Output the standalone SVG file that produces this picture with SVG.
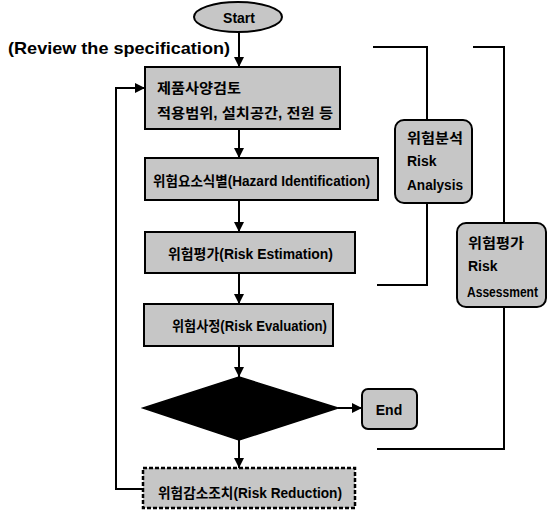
<svg xmlns="http://www.w3.org/2000/svg" width="548" height="511" viewBox="0 0 548 511">
<style>
.box{fill:#c6c6c6;stroke:#000;stroke-width:2}
.dash{fill:#c6c6c6;stroke:#000;stroke-width:2.5;stroke-dasharray:4 2}
.t{font-family:"Liberation Sans","Noto Sans CJK KR",sans-serif;font-weight:bold;font-size:14px;fill:#000}
.ln{fill:none;stroke:#000;stroke-width:2}
</style>
<defs>
<marker id="ah" viewBox="0 0 10 10" refX="10" refY="5" markerWidth="5" markerHeight="5" orient="auto" markerUnits="strokeWidth">
<path d="M0,0 L10,5 L0,10 z" fill="#000"/>
</marker>
</defs>
<rect width="548" height="511" fill="#fff"/>
<text x="8" y="54" font-family="Liberation Sans, sans-serif" font-weight="bold" font-size="17" textLength="222" lengthAdjust="spacingAndGlyphs">(Review the specification)</text>
<g id="start">
<ellipse cx="238" cy="17" rx="44" ry="15" class="box"/>
<text x="239" y="23" class="t" text-anchor="middle" font-size="16">Start</text>
</g>
<g id="spec">
<rect x="145" y="67" width="195" height="62" class="box"/>
<text x="157" y="93" class="t" textLength="84" lengthAdjust="spacingAndGlyphs">제품사양검토</text>
<text x="157" y="118" class="t" textLength="176" lengthAdjust="spacingAndGlyphs">적용범위, 설치공간, 전원 등</text>
</g>
<g id="hazard">
<rect x="145" y="158" width="233" height="42" class="box"/>
<text x="153" y="186" class="t" font-size="15" textLength="217" lengthAdjust="spacingAndGlyphs">위험요소식별(Hazard Identification)</text>
</g>
<g id="estimation">
<rect x="145" y="232" width="210" height="41" class="box"/>
<text x="168" y="259" class="t" font-size="15" textLength="165" lengthAdjust="spacingAndGlyphs">위험평가(Risk Estimation)</text>
</g>
<g id="evaluation">
<rect x="144" y="304" width="189" height="42" class="box"/>
<text x="172" y="331" class="t" font-size="15" textLength="155" lengthAdjust="spacingAndGlyphs">위험사정(Risk Evaluation)</text>
</g>
<g id="decision">
<polygon points="239,377 338,408 239,440 143,408" fill="#000" stroke="#000" stroke-width="1.5"/>
</g>
<g id="end">
<rect x="362" y="389" width="55" height="40" rx="6" class="box"/>
<text x="389" y="415" class="t" font-size="15" text-anchor="middle">End</text>
</g>
<g id="reduction">
<rect x="143" y="468" width="212" height="40" class="dash"/>
<text x="158" y="498" class="t" font-size="15" textLength="184" lengthAdjust="spacingAndGlyphs">위험감소조치(Risk Reduction)</text>
</g>
<g id="risk-analysis">
<rect x="395" y="120" width="77" height="83" rx="9" class="box"/>
<text x="407" y="143" class="t" font-size="15" textLength="56" lengthAdjust="spacingAndGlyphs">위험분석</text>
<text x="407" y="166" class="t" font-size="16">Risk</text>
<text x="407" y="190" class="t" font-size="16" textLength="56" lengthAdjust="spacingAndGlyphs">Analysis</text>
</g>
<g id="risk-assessment">
<rect x="457" y="223" width="89" height="84" rx="9" class="box"/>
<text x="468" y="248" class="t" font-size="15" textLength="56" lengthAdjust="spacingAndGlyphs">위험평가</text>
<text x="468" y="271" class="t" font-size="16">Risk</text>
<text x="467" y="297" class="t" font-size="15" textLength="71" lengthAdjust="spacingAndGlyphs">Assessment</text>
</g>
<g id="connectors">
<line x1="239" y1="32" x2="239" y2="67" class="ln" marker-end="url(#ah)"/>
<line x1="239" y1="129" x2="239" y2="158" class="ln" marker-end="url(#ah)"/>
<line x1="239" y1="200" x2="239" y2="232" class="ln" marker-end="url(#ah)"/>
<line x1="239" y1="273" x2="239" y2="304" class="ln" marker-end="url(#ah)"/>
<line x1="239" y1="346" x2="239" y2="377" class="ln" marker-end="url(#ah)"/>
<line x1="239" y1="440" x2="239" y2="468" class="ln" marker-end="url(#ah)"/>
<line x1="338" y1="408" x2="362" y2="408" class="ln" marker-end="url(#ah)"/>
<polyline points="143,489 116,489 116,88 145,88" class="ln" marker-end="url(#ah)"/>
<polyline points="373,47 427,47 427,120" class="ln"/>
<polyline points="427,203 427,285 377,285" class="ln"/>
<polyline points="473,47 504,47 504,223" class="ln"/>
<polyline points="504,307 504,449 377,449" class="ln"/>
</g>
</svg>
